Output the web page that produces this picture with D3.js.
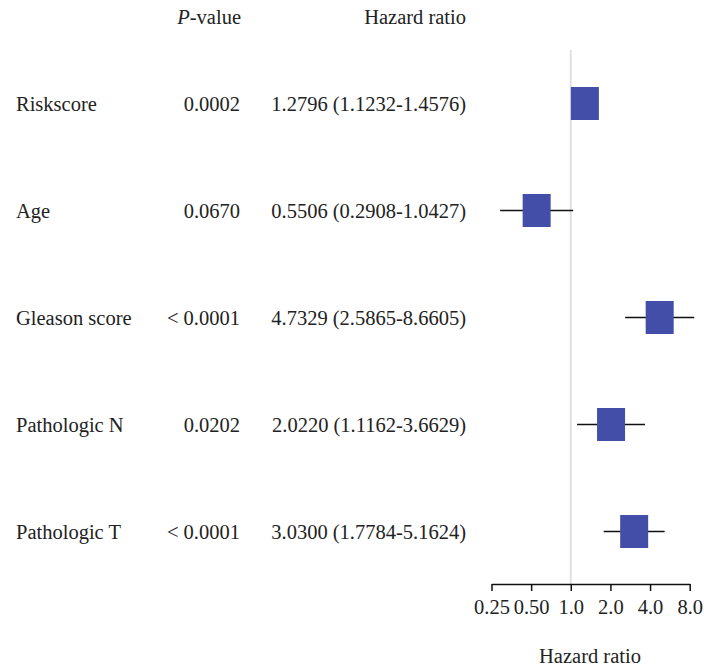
<!DOCTYPE html>
<html>
<head>
<meta charset="utf-8">
<script src="https://cdn.jsdelivr.net/npm/d3@7"></script>
<style>
  html, body { margin: 0; padding: 0; background: #fff; }
  svg { display: block; font-family: "Liberation Serif", "Times New Roman", serif; }
</style>
</head>
<body>
<svg id="chart" width="704" height="669"></svg>
<script>
const categories = ["Riskscore", "Age", "Gleason score", "Pathologic N", "Pathologic T"];
const pValues = ["0.0002", "0.0670", "< 0.0001", "0.0202", "< 0.0001"];
const hr = [1.2796, 0.5506, 4.7329, 2.0220, 3.0300];
const lower = [1.1232, 0.2908, 2.5865, 1.1162, 1.7784];
const upper = [1.4576, 1.0427, 8.6605, 3.6629, 5.1624];
const hrLabels = ["1.2796 (1.1232-1.4576)", "0.5506 (0.2908-1.0427)", "4.7329 (2.5865-8.6605)", "2.0220 (1.1162-3.6629)", "3.0300 (1.7784-5.1624)"];
const tickValues = [0.25, 0.5, 1, 2, 4, 8];
const tickLabels = ["0.25", "0.50", "1.0", "2.0", "4.0", "8.0"];

const svg = d3.select("#chart");
const fs = 20.5;

const x = d3.scaleLog().base(2).domain([0.25, 8]).range([491.5, 689.7]);
const y = d3.scalePoint().domain(categories).range([103.5, 531.5]);

// reference line at HR = 1
svg.append("line")
  .attr("x1", x(1)).attr("x2", x(1))
  .attr("y1", 50).attr("y2", 584)
  .attr("stroke", "#e0e0e0").attr("stroke-width", 2);

// headers
const ph = svg.append("text").attr("x", 241).attr("y", 24).attr("text-anchor", "end")
  .attr("font-size", fs).attr("fill", "#222");
ph.append("tspan").attr("font-style", "italic").text("P");
ph.append("tspan").text("-value");
svg.append("text").attr("x", 466).attr("y", 24).attr("text-anchor", "end")
  .attr("font-size", fs).attr("fill", "#222").text("Hazard ratio");

const rows = svg.selectAll("g.row").data(categories).join("g").attr("class", "row");
rows.append("text").attr("x", 16).attr("y", d => y(d) + 7)
  .attr("font-size", fs).attr("fill", "#222").text(d => d);
rows.append("text").attr("x", 240).attr("y", d => y(d) + 7).attr("text-anchor", "end")
  .attr("font-size", fs).attr("fill", "#222").text((d, i) => pValues[i]);
rows.append("text").attr("x", 466).attr("y", d => y(d) + 7).attr("text-anchor", "end")
  .attr("font-size", fs).attr("fill", "#222").text((d, i) => hrLabels[i]);

// CI lines
rows.append("line")
  .attr("x1", (d, i) => x(lower[i])).attr("x2", (d, i) => x(upper[i]))
  .attr("y1", d => y(d)).attr("y2", d => y(d))
  .attr("stroke", "#111").attr("stroke-width", 1.5);

// boxes
const bw = 28, bh = 33;
rows.append("rect")
  .attr("x", (d, i) => x(hr[i]) - bw / 2)
  .attr("y", d => y(d) - bh / 2)
  .attr("width", bw).attr("height", bh)
  .attr("fill", "#434ea9");

// axis
const axis = d3.axisBottom(x).tickValues(tickValues).tickFormat((d, i) => tickLabels[i]).tickSize(7).tickSizeOuter(0);
const ag = svg.append("g").attr("transform", "translate(0,584)").call(axis);
ag.select(".domain").attr("stroke", "#111").attr("stroke-width", 1.5);
ag.selectAll(".tick line").attr("stroke", "#111").attr("stroke-width", 1.5);
ag.selectAll(".tick text").attr("font-family", "Liberation Serif, serif").attr("font-size", fs)
  .attr("fill", "#222").attr("dy", null).attr("y", 30);

svg.append("text").attr("x", 590).attr("y", 663).attr("text-anchor", "middle")
  .attr("font-size", fs).attr("fill", "#222").text("Hazard ratio");
</script>
</body>
</html>
